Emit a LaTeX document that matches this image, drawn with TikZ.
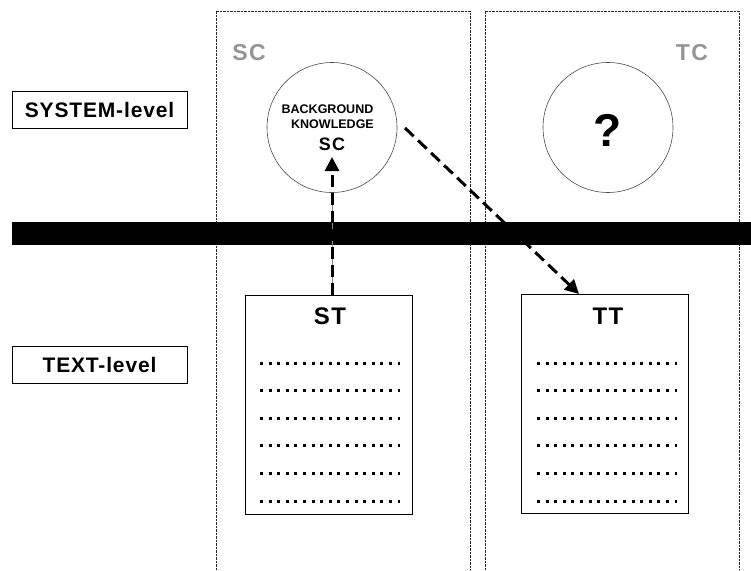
\documentclass[tikz,border=0pt]{standalone}
\usepackage{fontspec}
\setmainfont{Liberation Sans}
\usetikzlibrary{arrows.meta}
\begin{document}
\begin{tikzpicture}[x=1pt,y=-1pt,
  col/.style={draw=black!85, line width=1pt, dash pattern=on 0.8pt off 0.6pt},
  lvl/.style={draw, line width=0.9pt, minimum width=175pt, minimum height=37pt, inner sep=0pt,
    font=\bfseries\fontsize{21}{22}\selectfont\addfontfeatures{LetterSpace=4}},
  doc/.style={draw, line width=0.9pt, minimum width=167pt, minimum height=219pt, inner sep=0pt},
  know/.style={draw=black!70, line width=0.6pt, circle, minimum size=130pt, inner sep=0pt},
  graylbl/.style={text=black!42, font=\bfseries\fontsize{23}{24}\selectfont\addfontfeatures{LetterSpace=6}},
  doctitle/.style={font=\bfseries\fontsize{24}{25}\selectfont\addfontfeatures{LetterSpace=6}},
  dotrow/.style={line width=3pt, dash pattern=on 3pt off 5.6pt},
  darr/.style={line width=3pt, dash pattern=on 12pt off 6pt, -{Triangle[length=14pt,width=14pt]}},
]
\useasboundingbox (0,0) rectangle (751,570);
% columns
\draw[col] (216,570) -- (216,11) -- (470,11) -- (470,570);
\draw[col] (485,570) -- (485,11) -- (739,11) -- (739,570);
% column labels
\node[graylbl] (sclbl) at (249,53) {SC};
\node[graylbl] (tclbl) at (692,53) {TC};
% level boxes
\node[lvl] (syslvl) at (99.5,110) {SYSTEM-level};
\node[lvl] (txtlvl) at (99.5,364.5) {TEXT-level};
% circles
\node[know] (bk) at (332,127.5) {};
\node[know] (tq) at (608,127.5) {};
\node[font=\bfseries\fontsize{12.5}{13}\selectfont] (bg) at (327.5,109) {BACKGROUND};
\node[font=\bfseries\fontsize{12.5}{13}\selectfont] (kn) at (332.5,124) {KNOWLEDGE};
\node[font=\bfseries\fontsize{18}{19}\selectfont\addfontfeatures{LetterSpace=6}] (sci) at (332,144) {SC};
\node[font=\bfseries\fontsize{46}{48}\selectfont] (qm) at (608,130) {?};
% bar
\fill (12,222) rectangle (751,245);
% documents
\node[doc] (st) at (328.5,404.5) {};
\node[doc] (tt) at (605,404) {};
\node[doctitle] (sttitle) at (330,316) {ST};
\node[doctitle] (tttitle) at (608,316) {TT};
\foreach \yy in {363.3,390.7,418.3,445.7,473.3,501} {
  \draw[dotrow] (260,\yy) -- (400.3,\yy);
  \draw[dotrow] (537,\yy) -- (677.3,\yy);
}
% arrows
\coordinate (stTop) at (332,295);
\coordinate (scTip) at (332,157);
\coordinate (bkBottom) at (332,192.5);
\coordinate (dStart) at (405,128);
\coordinate (ttTop) at (579,294);
\draw[black!45, line width=0.6pt] (stTop) -- (bkBottom);
\draw[darr] (stTop) -- (scTip);
\draw[darr] (dStart) -- (ttTop);
\end{tikzpicture}
\end{document}
